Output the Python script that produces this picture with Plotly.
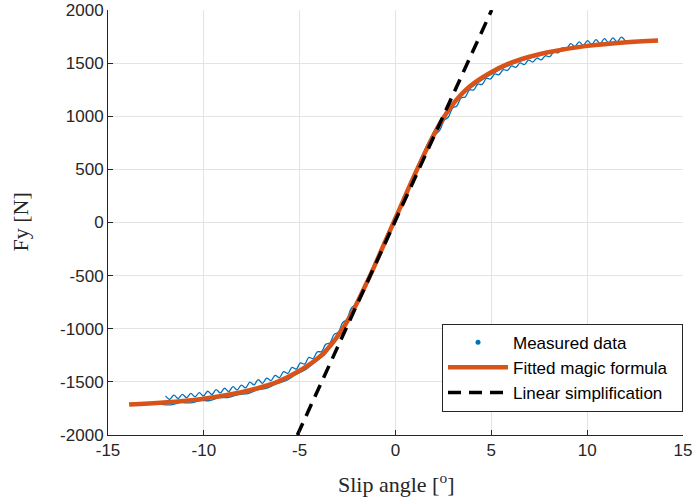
import plotly.graph_objects as go

# ---------------- data ----------------
# Measured data, branch 1 (oscillating sweep)
meas1_x = [-12.00, -11.78, -11.56, -11.34, -11.12, -10.90, -10.68, -10.46, -10.24, -10.02,
           -9.80, -9.58, -9.36, -9.14, -8.92, -8.70, -8.48, -8.26, -8.04, -7.82,
           -7.60, -7.38, -7.16, -6.94, -6.72, -6.50, -6.28, -6.06, -5.84, -5.62,
           -5.40, -5.18, -4.96, -4.74, -4.52, -4.30, -4.08, -3.86, -3.64, -3.42,
           -3.20, -2.98, -2.76, -2.54, -2.32, -2.10,
           -1.60, -1.10, -0.60, -0.10, 0.40, 0.90, 1.40, 1.90,
           2.10, 2.32, 2.54, 2.76, 2.98, 3.20, 3.42, 3.64, 3.86, 4.08,
           4.30, 4.52, 4.74, 4.96, 5.18, 5.40, 5.62, 5.84, 6.06, 6.28,
           6.50, 6.72, 6.94, 7.16, 7.38, 7.60, 7.82, 8.04, 8.26, 8.48,
           8.70, 8.92, 9.14, 9.36, 9.58, 9.80, 10.02, 10.24, 10.46, 10.68,
           10.90, 11.12, 11.34, 11.56, 11.78, 12.00]
meas1_y = [-1632, -1664, -1625, -1657, -1617, -1649, -1609, -1641, -1601, -1633,
           -1588, -1619, -1573, -1604, -1560, -1591, -1545, -1576, -1530, -1556,
           -1503, -1528, -1478, -1514, -1464, -1488, -1438, -1460, -1404, -1421,
           -1364, -1381, -1322, -1333, -1270, -1280, -1218, -1215, -1146, -1133,
           -1053, -1033, -943, -913, -810, -771,
           -585, -395, -195, 0, 215, 425, 625, 805,
           830, 872, 962, 993, 1077, 1097, 1172, 1182, 1247, 1248,
           1302, 1300, 1355, 1351, 1399, 1391, 1439, 1431, 1474, 1461,
           1502, 1487, 1528, 1510, 1548, 1530, 1569, 1560, 1606, 1596,
           1643, 1634, 1684, 1656, 1700, 1668, 1712, 1676, 1722, 1684,
           1730, 1691, 1738, 1698, 1744, 1705]

# Measured data, branch 2 (smoother sweep)
meas2_x = [-12.2, -11.7, -11.2, -10.7, -10.2, -9.7, -9.2, -8.7, -8.2, -7.7,
           -7.2, -6.7, -6.2, -5.7, -5.2, -4.7, -4.2, -3.7, -3.2, -2.7,
           -2.2, -1.7, -1.2, -0.7, -0.2, 0.3, 0.8, 1.3, 1.8, 2.3,
           2.8, 3.3, 3.8, 4.3, 4.8, 5.3, 5.8, 6.3, 6.8, 7.3,
           7.8, 8.3, 8.8, 9.3, 9.8, 10.3, 10.8, 11.3, 11.8, 12.0]
meas2_y = [-1712, -1716, -1695, -1698, -1678, -1676, -1649, -1646, -1619, -1610,
           -1575, -1559, -1517, -1487, -1430, -1385, -1313, -1245, -1122, -996,
           -823, -642, -449, -246, -41, 164, 380, 590, 785, 950,
           1070, 1165, 1250, 1315, 1375, 1425, 1470, 1505, 1537, 1563,
           1587, 1605, 1620, 1637, 1652, 1662, 1671, 1680, 1689, 1692]

# Fitted magic formula
fit_x = [-13.9, -12.1, -10.1, -8.1, -7.1, -6.1, -5.1, -4.1, -3.6, -3.1, -2.6, -2.1,
         -1.6, -1.1, -0.6, -0.1, 0.4, 0.9, 1.4, 1.9, 2.4, 2.9, 3.4, 3.9,
         4.9, 5.9, 6.9, 7.9, 9.9, 11.9, 13.7]
fit_y = [-1714, -1695, -1660, -1600, -1555, -1495, -1405, -1285, -1200, -1090, -955, -790,
         -605, -410, -205, 0, 205, 410, 605, 790, 955, 1090, 1200, 1285,
         1405, 1495, 1555, 1600, 1660, 1695, 1714]

# Linear simplification
lin_x = [-5.12, 5.02]
lin_y = [-2000, 2000]

x_ticks = [-15, -10, -5, 0, 5, 10, 15]
y_ticks = [-2000, -1500, -1000, -500, 0, 500, 1000, 1500, 2000]

BLUE = "#0072BD"
ORANGE = "#D95319"
AX = "#262626"
SERIF = "Liberation Serif, Times New Roman, serif"
PAD = "\u00a0\u00a0"

fig = go.Figure()
fig.add_trace(go.Scatter(x=meas2_x, y=meas2_y, mode="lines", line=dict(color=BLUE, width=1.3, shape="spline"),
                         showlegend=False, hoverinfo="skip"))
fig.add_trace(go.Scatter(x=meas1_x, y=meas1_y, mode="lines", line=dict(color=BLUE, width=1.3, shape="spline"),
                         showlegend=False, hoverinfo="skip"))
fig.add_trace(go.Scatter(x=[None], y=[None], mode="markers", marker=dict(color=BLUE, size=5),
                         name="Measured data" + PAD))
fig.add_trace(go.Scatter(x=fit_x, y=fit_y, mode="lines", line=dict(color=ORANGE, width=4.5, shape="spline"),
                         name="Fitted magic formula" + PAD))
fig.add_trace(go.Scatter(x=lin_x, y=lin_y, mode="lines", line=dict(color="black", width=3.5, dash="13px,8px"),
                         name="Linear simplification" + PAD))

fig.update_layout(
    width=695, height=502,
    margin=dict(l=108, r=12, t=10, b=67, autoexpand=False),
    paper_bgcolor="white", plot_bgcolor="white",
    font=dict(family="Liberation Sans, Arial, sans-serif", size=17, color=AX),
    showlegend=True,
    legend=dict(x=1.0, y=0.055, xanchor="right", yanchor="bottom",
                bgcolor="white", bordercolor=AX, borderwidth=1,
                font=dict(size=17, color="black"), itemwidth=60,
                tracegroupgap=0),
    annotations=[
        dict(text="Slip angle [<sup>o</sup>]", xref="paper", yref="paper",
             x=0.5, y=-0.113, xanchor="center", yanchor="middle", showarrow=False,
             font=dict(family=SERIF, size=22, color=AX)),
        dict(text="Fy [N]", xref="paper", yref="paper", textangle=-90,
             x=-0.153, y=0.5, xanchor="center", yanchor="middle", showarrow=False,
             font=dict(family=SERIF, size=22, color=AX)),
    ],
)
fig.update_xaxes(range=[-15, 15], tickvals=x_ticks, ticktext=[str(v) for v in x_ticks],
                 showgrid=True, gridcolor="#e3e3e3", gridwidth=1, zeroline=False,
                 showline=True, linecolor=AX, linewidth=1, ticks="inside", ticklen=5,
                 tickcolor=AX, mirror=False, automargin=False)
fig.update_yaxes(range=[-2000, 2000], tickvals=y_ticks, ticktext=[str(v) for v in y_ticks],
                 showgrid=True, gridcolor="#e3e3e3", gridwidth=1, zeroline=False,
                 showline=True, linecolor=AX, linewidth=1, ticks="inside", ticklen=5,
                 tickcolor=AX, mirror=False, automargin=False)

fig.write_html("out.html")
